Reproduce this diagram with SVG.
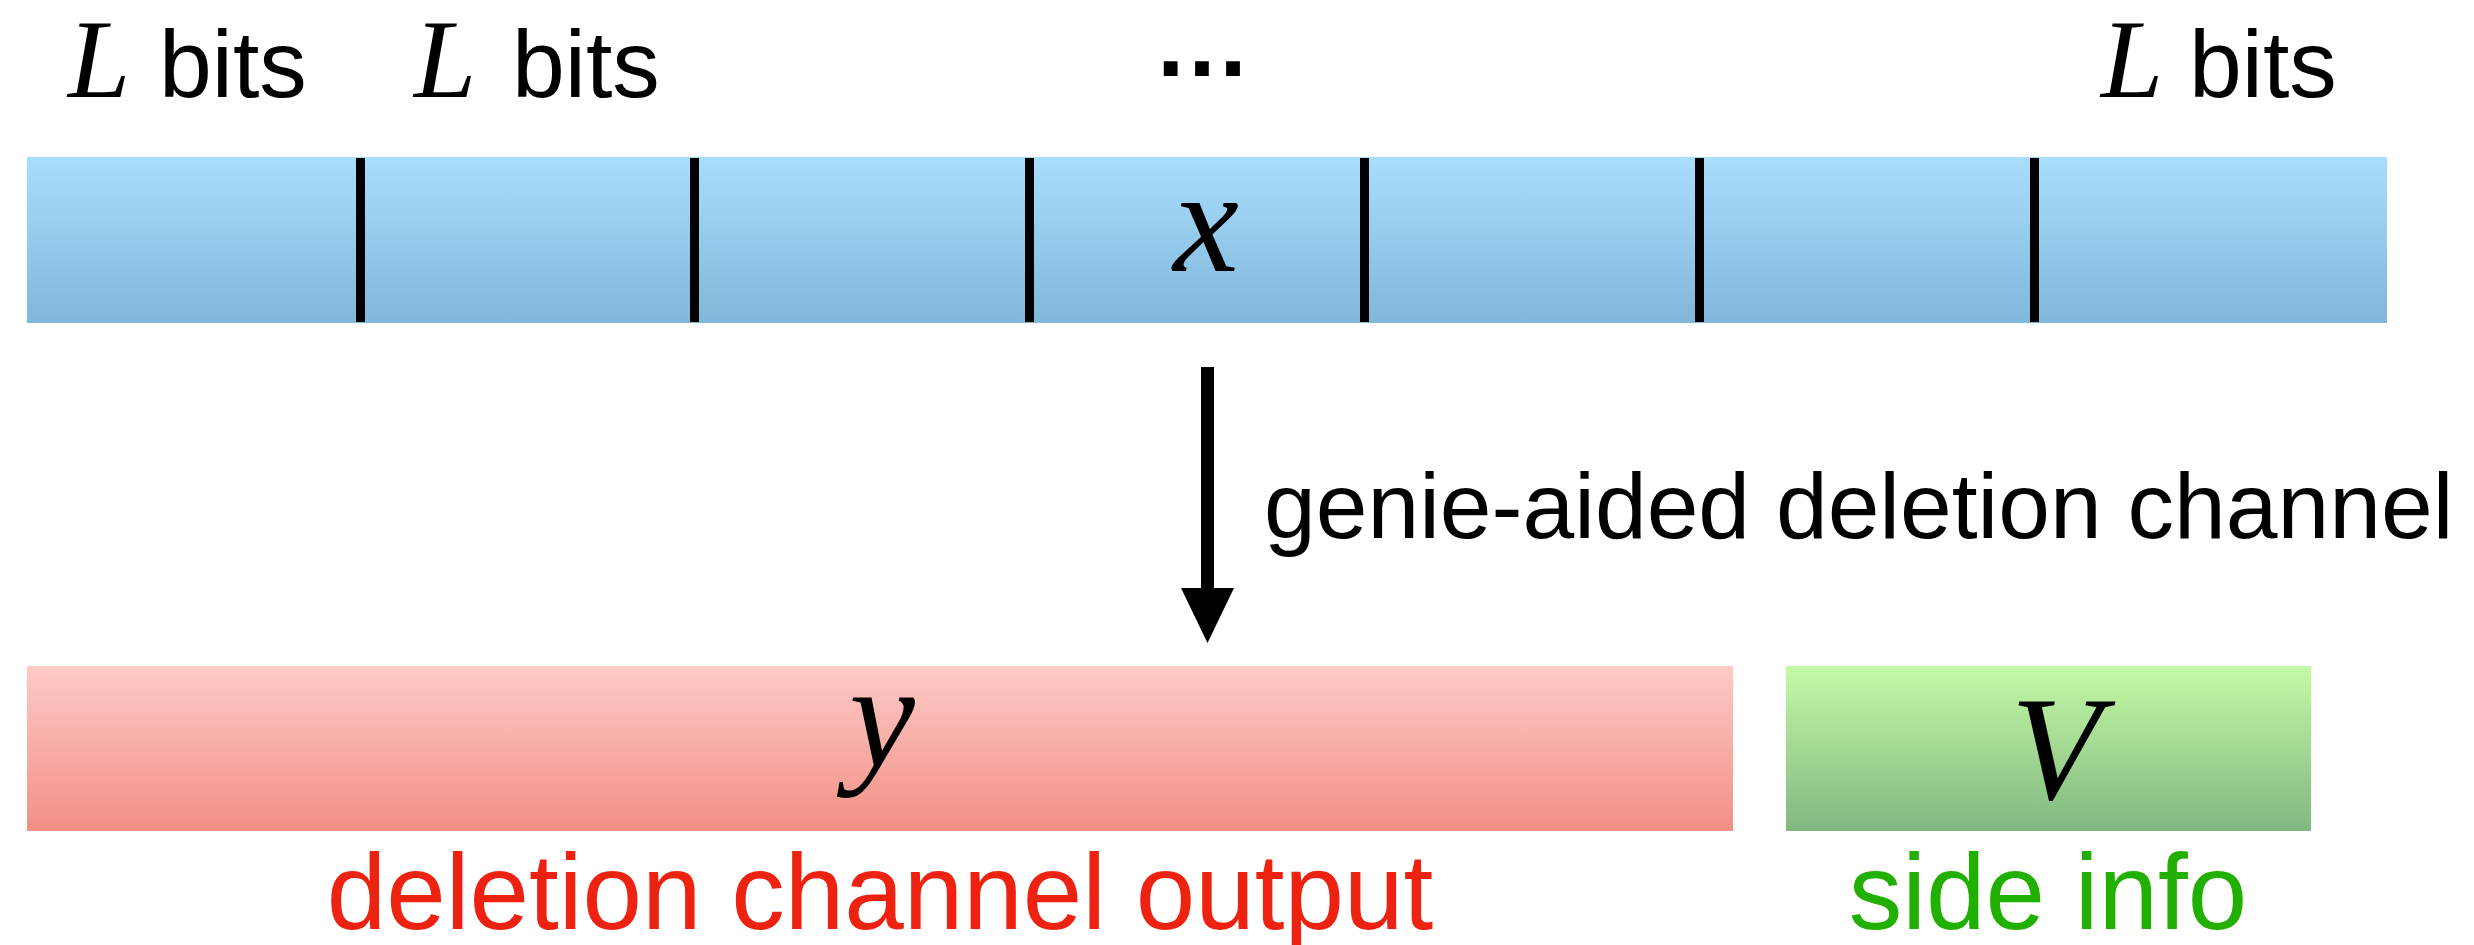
<svg xmlns="http://www.w3.org/2000/svg" width="2474" height="945" viewBox="0 0 2474 945">
  <defs>
    <linearGradient id="gBlue" x1="0" y1="0" x2="0" y2="1">
      <stop offset="0" stop-color="#a8defc"/>
      <stop offset="1" stop-color="#80b7da"/>
    </linearGradient>
    <linearGradient id="gRed" x1="0" y1="0" x2="0" y2="1">
      <stop offset="0" stop-color="#fdcac7"/>
      <stop offset="1" stop-color="#f48f85"/>
    </linearGradient>
    <linearGradient id="gGreen" x1="0" y1="0" x2="0" y2="1">
      <stop offset="0" stop-color="#c4f9a5"/>
      <stop offset="1" stop-color="#80b880"/>
    </linearGradient>
    <style>
      .sans { font-family: "Liberation Sans", Arial, Helvetica, sans-serif; }
      .math { font-family: "Liberation Serif", "Times New Roman", serif; font-style: italic; fill: #000; }
      .bits { font-size: 95px; fill: #000; }
      .ell { font-size: 112px; }
      .var { font-size: 148px; text-anchor: middle; }
      .divider { fill: #000; }
      .cap { font-size: 107px; text-anchor: middle; }
    </style>
  </defs>

  <!-- block-size labels above the input sequence -->
  <g id="labels-top">
    <text class="math ell" x="68" y="97">L</text>
    <text class="sans bits" x="159" y="97">bits</text>
    <text class="math ell" x="414" y="97">L</text>
    <text class="sans bits" x="512" y="97">bits</text>
    <text class="sans" x="1202" y="76" font-size="98" font-weight="bold" text-anchor="middle">…</text>
    <text class="math ell" x="2101" y="97">L</text>
    <text class="sans bits" x="2189" y="97">bits</text>
  </g>

  <!-- input sequence x, split into blocks of L bits -->
  <g id="input-x">
    <rect x="27" y="157" width="2360" height="166" fill="url(#gBlue)"/>
    <rect class="divider" x="356" y="158" width="9" height="164"/>
    <rect class="divider" x="690" y="158" width="9" height="164"/>
    <rect class="divider" x="1025" y="158" width="9" height="164"/>
    <rect class="divider" x="1360" y="158" width="9" height="164"/>
    <rect class="divider" x="1695" y="158" width="9" height="164"/>
    <rect class="divider" x="2030" y="158" width="9" height="164"/>
    <text class="math var" x="1206" y="271">x</text>
  </g>

  <!-- channel arrow -->
  <g id="connectors">
    <rect x="1201" y="367" width="13" height="223" fill="#000"/>
    <polygon points="1181,588 1234,588 1207.5,643" fill="#000"/>
    <text class="sans" x="1264" y="538" font-size="93" fill="#000">genie-aided deletion channel</text>
  </g>

  <!-- channel output y -->
  <g id="output-y">
    <rect x="27" y="666" width="1706" height="165" fill="url(#gRed)"/>
    <text class="math var" x="882" y="766">y</text>
    <text class="sans cap" x="880" y="929" fill="#ee2210">deletion channel output</text>
  </g>

  <!-- side information V -->
  <g id="side-info-v">
    <rect x="1786" y="666" width="525" height="165" fill="url(#gGreen)"/>
    <text class="math var" x="2056" y="799">V</text>
    <text class="sans cap" x="2048" y="929" fill="#22b000">side info</text>
  </g>
</svg>
